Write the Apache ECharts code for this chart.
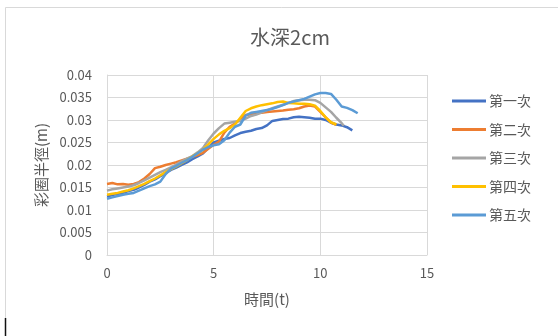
<!DOCTYPE html>
<html>
<head>
<meta charset="utf-8">
<script src="https://cdn.jsdelivr.net/npm/echarts@6/dist/echarts.min.js"></script>
<style>
  html, body { margin: 0; padding: 0; background: #fff; }
  #chart { width: 558px; height: 336px; }
</style>
</head>
<body>
<div id="chart"></div>
<script>
// Ring radius over time, five runs at 2 cm water depth
const seriesNames = ['第一次', '第二次', '第三次', '第四次', '第五次'];
const seriesColors = ['#4472C4', '#ED7D31', '#A5A5A5', '#FFC000', '#5B9BD5'];
const xTicks = [0, 5, 10, 15];
const yTicks = [0, 0.005, 0.01, 0.015, 0.02, 0.025, 0.03, 0.035, 0.04];

const time1 = [0,0.25,0.5,0.75,1,1.25,1.5,1.75,2,2.25,2.5,2.75,3,3.25,3.5,3.75,4,4.25,4.5,4.75,5,5.25,5.5,5.75,6,6.25,6.5,6.75,7,7.25,7.5,7.75,8,8.25,8.5,8.75,9,9.25,9.5,9.75,10,10.25,10.5,10.75,11,11.25,11.5];
const radius1 = [0.0130,0.0133,0.0136,0.0138,0.0142,0.0145,0.0150,0.0156,0.0163,0.0168,0.0175,0.0182,0.0189,0.0194,0.0200,0.0206,0.0213,0.0219,0.0226,0.0238,0.0250,0.0254,0.0258,0.0260,0.0266,0.0271,0.0274,0.0276,0.0280,0.0282,0.0288,0.0298,0.0300,0.0302,0.0303,0.0306,0.0307,0.0306,0.0305,0.0303,0.0303,0.0300,0.0294,0.0290,0.0288,0.0284,0.0277];

const time2 = [0,0.25,0.5,0.75,1,1.25,1.5,1.75,2,2.25,2.5,2.75,3,3.25,3.5,3.75,4,4.25,4.5,4.75,5,5.25,5.5,5.75,6,6.25,6.5,6.75,7,7.25,7.5,7.75,8,8.25,8.5,8.75,9,9.25,9.5,9.75,10,10.25,10.5,10.75];
const radius2 = [0.0158,0.0160,0.0157,0.0158,0.0156,0.0158,0.0162,0.0170,0.0180,0.0193,0.0196,0.0200,0.0203,0.0206,0.0210,0.0214,0.0218,0.0222,0.0227,0.0236,0.0245,0.0252,0.0272,0.0285,0.0292,0.0302,0.0311,0.0313,0.0315,0.0316,0.0318,0.0319,0.0320,0.0321,0.0323,0.0324,0.0326,0.0330,0.0332,0.0330,0.0318,0.0306,0.0294,0.0289];

const time3 = [0,0.25,0.5,0.75,1,1.25,1.5,1.75,2,2.25,2.5,2.75,3,3.25,3.5,3.75,4,4.25,4.5,4.75,5,5.25,5.5,5.75,6,6.25,6.5,6.75,7,7.25,7.5,7.75,8,8.25,8.5,8.75,9,9.25,9.5,9.75,10,10.25,10.5,10.75,11,11.1];
const radius3 = [0.0143,0.0146,0.0148,0.0150,0.0152,0.0155,0.0160,0.0166,0.0172,0.0178,0.0184,0.0189,0.0195,0.0201,0.0208,0.0214,0.0220,0.0228,0.0238,0.0255,0.0270,0.0282,0.0292,0.0294,0.0296,0.0298,0.0303,0.0309,0.0312,0.0317,0.0322,0.0326,0.0330,0.0334,0.0338,0.0342,0.0344,0.0345,0.0345,0.0344,0.0338,0.0328,0.0318,0.0305,0.0293,0.0287];

const time4 = [0,0.25,0.5,0.75,1,1.25,1.5,1.75,2,2.25,2.5,2.75,3,3.25,3.5,3.75,4,4.25,4.5,4.75,5,5.25,5.5,5.75,6,6.25,6.5,6.75,7,7.25,7.5,7.75,8,8.25,8.5,8.75,9,9.25,9.5,9.75,10,10.25,10.5,10.75];
const radius4 = [0.0134,0.0136,0.0138,0.0141,0.0144,0.0148,0.0153,0.0158,0.0164,0.0170,0.0177,0.0184,0.0191,0.0197,0.0204,0.0211,0.0219,0.0226,0.0234,0.0246,0.0258,0.0268,0.0276,0.0282,0.0290,0.0305,0.0320,0.0326,0.0330,0.0333,0.0335,0.0337,0.0340,0.0341,0.0338,0.0337,0.0336,0.0336,0.0335,0.0332,0.0320,0.0306,0.0295,0.0290];

const time5 = [0,0.25,0.5,0.75,1,1.25,1.5,1.75,2,2.25,2.5,2.75,3,3.25,3.5,3.75,4,4.25,4.5,4.75,5,5.25,5.5,5.75,6,6.25,6.5,6.75,7,7.25,7.5,7.75,8,8.25,8.5,8.75,9,9.25,9.5,9.75,10,10.25,10.5,10.75,11,11.25,11.5,11.75];
const radius5 = [0.0125,0.0128,0.0131,0.0134,0.0136,0.0138,0.0143,0.0148,0.0153,0.0157,0.0163,0.0180,0.0192,0.0198,0.0205,0.0211,0.0218,0.0226,0.0234,0.0240,0.0244,0.0246,0.0255,0.0272,0.0285,0.0290,0.0310,0.0316,0.0318,0.0320,0.0322,0.0325,0.0329,0.0333,0.0338,0.0341,0.0344,0.0347,0.0352,0.0357,0.0360,0.0360,0.0358,0.0345,0.0330,0.0327,0.0322,0.0315];

const times = [time1, time2, time3, time4, time5];
const radii = [radius1, radius2, radius3, radius4, radius5];

const textColor = '#595959';
const font = '"Noto Sans CJK TC", "Noto Sans", sans-serif';

const chart = echarts.init(document.getElementById('chart'), null, { renderer: 'canvas' });

chart.setOption({
  animation: false,
  backgroundColor: '#fff',
  textStyle: { fontFamily: font },
  title: {
    text: '水深2cm',
    left: 285, top: 22,
    textAlign: 'center',
    textStyle: { fontSize: 20, fontWeight: 'normal', color: textColor, fontFamily: font }
  },
  legend: {
    orient: 'vertical',
    left: 447, top: 89,
    itemWidth: 34, itemHeight: 3,
    itemGap: 14.5,
    icon: 'rect',
    textStyle: { fontSize: 14, color: textColor, fontFamily: font, padding: [0, 0, 0, -2] },
    data: seriesNames
  },
  grid: { left: 107, right: 131, top: 75, bottom: 81, containLabel: false },
  xAxis: {
    type: 'value',
    min: xTicks[0], max: xTicks[xTicks.length - 1], interval: 5,
    name: '時間(t)', nameLocation: 'middle', nameGap: 37,
    nameTextStyle: { fontSize: 15, color: textColor, fontFamily: font },
    axisLine: { show: true, lineStyle: { color: '#D9D9D9' } },
    axisTick: { show: false },
    axisLabel: { fontSize: 13, color: textColor, margin: 12, fontFamily: font },
    splitLine: { show: true, lineStyle: { color: '#D9D9D9' } }
  },
  yAxis: {
    type: 'value',
    min: yTicks[0], max: yTicks[yTicks.length - 1], interval: 0.005,
    name: '彩圈半徑(m)', nameLocation: 'middle', nameGap: 50,
    nameTextStyle: { fontSize: 15, color: textColor, fontFamily: font },
    axisLine: { show: true, lineStyle: { color: '#D9D9D9' } },
    axisTick: { show: false },
    axisLabel: { fontSize: 13, color: textColor, margin: 15, fontFamily: font },
    splitLine: { show: true, lineStyle: { color: '#D9D9D9' } }
  },
  series: seriesNames.map((name, i) => ({
    name: name,
    type: 'line',
    showSymbol: false,
    symbol: 'none',
    color: seriesColors[i],
    lineStyle: { width: 2.5, color: seriesColors[i] },
    data: times[i].map((t, k) => [t, radii[i][k]])
  })),
  graphic: [
    { type: 'line', shape: { x1: 5.5, y1: 7.5, x2: 558, y2: 7.5 }, style: { stroke: '#D9D9D9', lineWidth: 1 } },
    { type: 'line', shape: { x1: 5.5, y1: 7.5, x2: 5.5, y2: 318 }, style: { stroke: '#D9D9D9', lineWidth: 1 } },
    { type: 'line', shape: { x1: 5.5, y1: 318, x2: 5.5, y2: 336 }, style: { stroke: '#111', lineWidth: 1.5 } }
  ]
});
</script>
</body>
</html>
